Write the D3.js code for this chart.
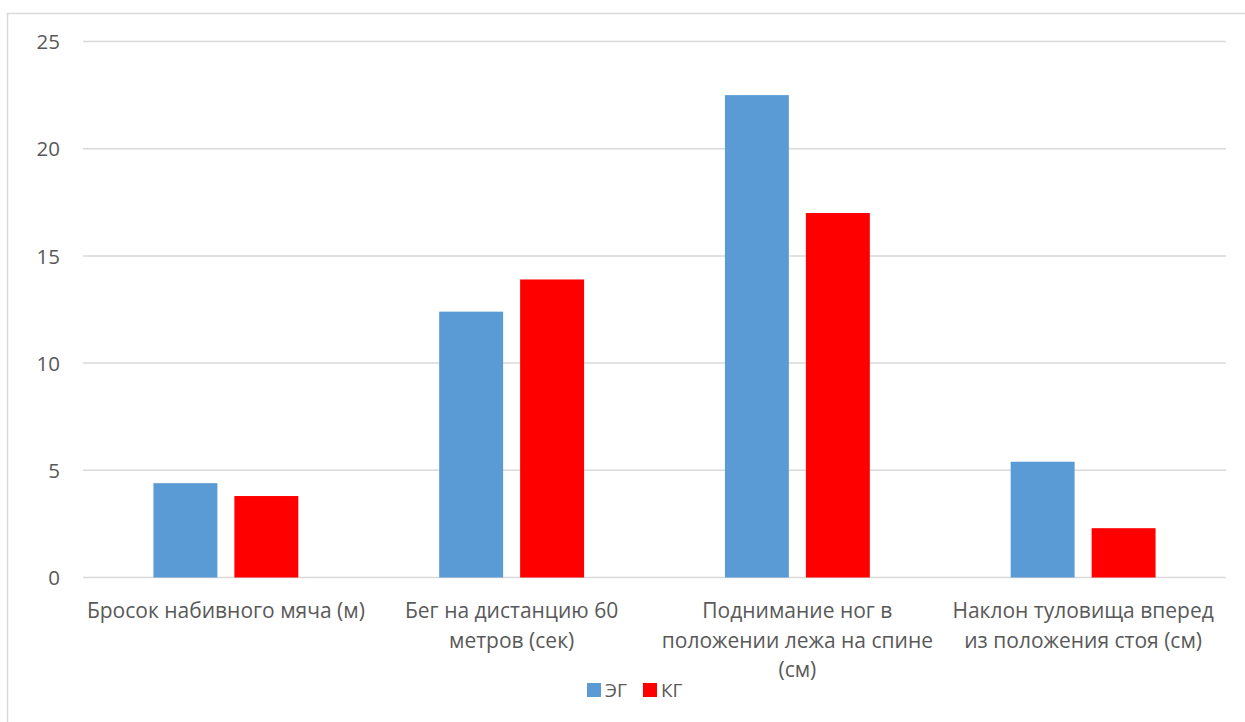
<!DOCTYPE html>
<html>
<head>
<meta charset="utf-8">
<script src="https://cdn.jsdelivr.net/npm/d3@7"></script>
<style>
  html, body { margin: 0; padding: 0; background: #fff; }
  svg { display: block; }
  text { font-family: "Open Sans", "Noto Sans", sans-serif; fill: #595959; }
</style>
</head>
<body>
<svg id="chart" width="1245" height="722"></svg>
<script>
// Test categories (each label pre-split into its display lines)
const categories = [
  ["Бросок набивного мяча (м)"],
  ["Бег на дистанцию 60", "метров (сек)"],
  ["Поднимание ног в", "положении лежа на спине", "(см)"],
  ["Наклон туловища вперед", "из положения стоя (см)"]
];
const seriesNames = ["ЭГ", "КГ"];
const valuesEG = [4.4, 12.4, 22.5, 5.4];
const valuesKG = [3.8, 13.9, 17.0, 2.3];
const yTicks = [0, 5, 10, 15, 20, 25];
const colors = ["#5B9BD5", "#FF0000"];

const svg = d3.select("#chart");
const W = 1245, H = 722;

// Outer chart frame (continues past the right and bottom edges)
svg.append("rect")
  .attr("x", 7.5).attr("y", 13.5)
  .attr("width", W + 20).attr("height", H + 20)
  .attr("fill", "#fff")
  .attr("stroke", "#d9d9d9").attr("stroke-width", 1.5);

const plot = { left: 83, right: 1226, top: 41.5, bottom: 577.5 };

const x = d3.scaleBand()
  .domain(d3.range(categories.length))
  .range([plot.left, plot.right])
  .padding(0);

const xs = d3.scaleBand()
  .domain(seriesNames)
  .range([0, x.bandwidth()])
  .paddingInner(0.21)
  .paddingOuter(0.87);

const y = d3.scaleLinear()
  .domain([0, 25])
  .range([plot.bottom, plot.top]);

// Horizontal gridlines
svg.append("g")
  .selectAll("line")
  .data(yTicks)
  .join("line")
  .attr("x1", plot.left).attr("x2", plot.right)
  .attr("y1", d => y(d)).attr("y2", d => y(d))
  .attr("stroke", "#d9d9d9").attr("stroke-width", 1.5);

// Y axis labels
const yAxis = d3.axisLeft(y).tickValues(yTicks).tickSize(0).tickPadding(0);
const gy = svg.append("g")
  .attr("transform", `translate(60,0)`)
  .call(yAxis);
gy.select(".domain").remove();
gy.selectAll("text")
  .style("font-family", '"Open Sans", "Noto Sans", sans-serif')
  .style("font-size", "20.5px")
  .attr("fill", "#595959")
  .attr("dy", "0.35em");

// Bars
const rows = categories.map((c, i) => ({ i, vals: [valuesEG[i], valuesKG[i]] }));
const groups = svg.append("g")
  .selectAll("g")
  .data(rows)
  .join("g")
  .attr("transform", d => `translate(${x(d.i)},0)`);

groups.selectAll("rect")
  .data(d => d.vals.map((v, k) => ({ key: seriesNames[k], v, k })))
  .join("rect")
  .attr("x", d => xs(d.key))
  .attr("width", xs.bandwidth())
  .attr("y", d => y(d.v))
  .attr("height", d => y(0) - y(d.v))
  .attr("fill", d => colors[d.k]);

// Category labels
const labels = svg.append("g")
  .selectAll("text")
  .data(categories)
  .join("text")
  .attr("text-anchor", "middle")
  .style("font-size", "21px")
  .attr("x", (d, i) => x(i) + x.bandwidth() / 2)
  .attr("y", 618);
labels.selectAll("tspan")
  .data(d => d)
  .join("tspan")
  .attr("x", function () { return d3.select(this.parentNode).attr("x"); })
  .attr("dy", (d, j) => j === 0 ? 0 : 29.5)
  .text(d => d);

// Legend
const legend = svg.append("g").attr("transform", "translate(587,683)");
const legendX = [0, 56];
seriesNames.forEach((name, k) => {
  const g = legend.append("g").attr("transform", `translate(${legendX[k]},0)`);
  g.append("rect").attr("width", 14).attr("height", 14).attr("fill", colors[k]);
  g.append("text").attr("x", 18).attr("y", 14)
    .style("font-size", "19px").text(name);
});
</script>
</body>
</html>
